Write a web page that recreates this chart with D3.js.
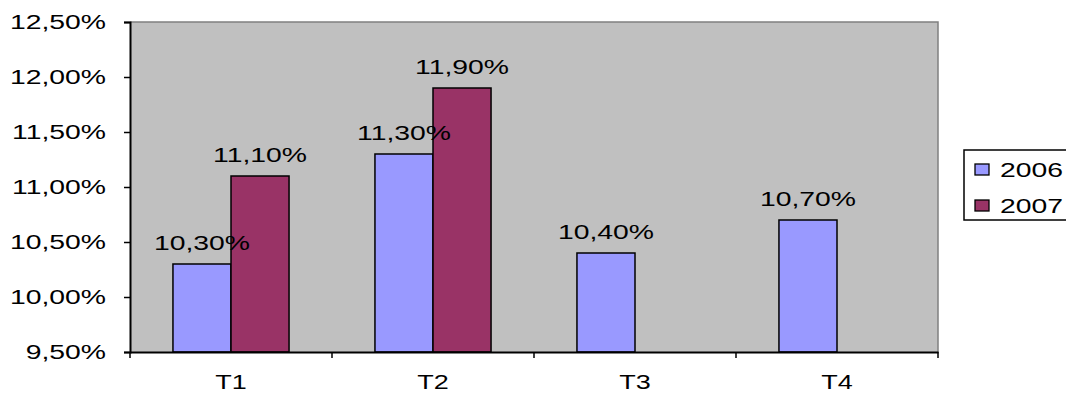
<!DOCTYPE html>
<html>
<head>
<meta charset="utf-8">
<script src="https://cdn.jsdelivr.net/npm/d3@7"></script>
<style>
  body { margin: 0; background: #fff; }
  svg { display: block; font-family: "Liberation Sans", Arial, sans-serif; }
</style>
</head>
<body>
<svg id="chart" width="1066" height="394"></svg>
<script>
// Quarterly rates, 2006 vs 2007
const categories = ["T1", "T2", "T3", "T4"];
const seriesNames = ["2006", "2007"];
const values2006 = [10.3, 11.3, 10.4, 10.7];
const values2007 = [11.1, 11.9, null, null];
const yTicks = [9.5, 10.0, 10.5, 11.0, 11.5, 12.0, 12.5];
const colors = ["#9999FF", "#993366"];

const svg = d3.select("#chart");
const plot = { left: 130, right: 938, top: 22, bottom: 352 };
const FONT = 21, SX = 1.35; // wide label glyphs

const fmt = v => d3.format(".2f")(v).replace(".", ",") + "%";

const x = d3.scaleBand().domain(categories).range([plot.left, plot.right]);
const inner = d3.scaleBand().domain(seriesNames)
  .range([0, x.bandwidth()]).paddingOuter(0.74);
const y = d3.scaleLinear().domain([9.5, 12.5]).range([plot.bottom, plot.top]);

// plot background
svg.append("rect")
  .attr("x", plot.left).attr("y", plot.top)
  .attr("width", plot.right - plot.left).attr("height", plot.bottom - plot.top)
  .attr("fill", "#C0C0C0");
svg.append("path")
  .attr("d", `M${plot.left},${plot.top}H${plot.right}V${plot.bottom}`)
  .attr("fill", "none").attr("stroke", "#808080").attr("stroke-width", 1.5);

function wideText(sel, tx, ty, anchor, size = FONT) {
  return sel.append("text")
    .attr("transform", `translate(${tx},${ty}) scale(${SX},1)`)
    .attr("text-anchor", anchor)
    .attr("font-size", size)
    .attr("fill", "#000");
}

// bars
const data = [];
categories.forEach((c, i) => {
  [values2006[i], values2007[i]].forEach((v, s) => {
    if (v != null) data.push({ c, s, v });
  });
});

const bars = svg.append("g");
data.forEach(d => {
  const bx = x(d.c) + inner(seriesNames[d.s]);
  bars.append("rect")
    .attr("x", bx).attr("y", y(d.v))
    .attr("width", inner.bandwidth()).attr("height", y(9.5) - y(d.v))
    .attr("fill", colors[d.s]).attr("stroke", "#000").attr("stroke-width", 1.5);
});
data.forEach(d => {
  const cx = x(d.c) + inner(seriesNames[d.s]) + inner.bandwidth() / 2;
  wideText(svg, cx, y(d.v) - 14, "middle").text(fmt(d.v));
});

// y axis
const yAxis = svg.append("g").attr("transform", `translate(${plot.left},0)`)
  .call(d3.axisLeft(y).tickValues(yTicks).tickSize(6).tickFormat(""));
yAxis.select(".domain").attr("stroke", "#000").attr("stroke-width", 2);
yAxis.selectAll(".tick line").attr("stroke", "#000").attr("stroke-width", 1.5);
yTicks.forEach(t => {
  wideText(svg, 106, y(t) + 7, "end").text(fmt(t));
});

// x axis
const xAxis = svg.append("g").attr("transform", `translate(0,${plot.bottom})`)
  .call(d3.axisBottom(x).tickSize(0).tickFormat(""));
xAxis.select(".domain").attr("stroke", "#000").attr("stroke-width", 2);
const bounds = categories.map(c => x(c)).concat([plot.right]);
xAxis.selectAll(".bound").data(bounds).enter().append("line")
  .attr("x1", d => d).attr("x2", d => d).attr("y1", 0).attr("y2", 6)
  .attr("stroke", "#000").attr("stroke-width", 1.5);
categories.forEach(c => {
  wideText(svg, x(c) + x.bandwidth() / 2, 389, "middle", 20).text(c);
});

// legend
const lg = svg.append("g");
lg.append("rect").attr("x", 964).attr("y", 150).attr("width", 120).attr("height", 70)
  .attr("fill", "#fff").attr("stroke", "#000").attr("stroke-width", 1.5);
seriesNames.forEach((n, i) => {
  const ly = 164 + i * 36;
  lg.append("rect").attr("x", 975).attr("y", ly).attr("width", 14).attr("height", 11)
    .attr("fill", colors[i]).attr("stroke", "#000").attr("stroke-width", 1.3);
  wideText(lg, 1000, ly + 13, "start").text(n);
});
</script>
</body>
</html>
